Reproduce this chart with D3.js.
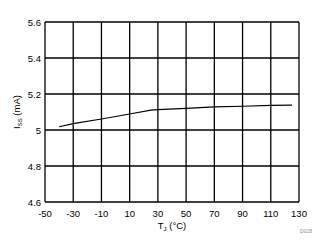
<!DOCTYPE html>
<meta charset="utf-8">
<style>
  body { margin: 0; background: #fff; }
  text { font-family: "Liberation Sans", Arial, sans-serif; fill: #000; }
</style>
<script src="https://d3js.org/d3.v7.min.js"></script>
<body>
<script>
// values
var temps = [-40, -30, -10, 10, 25, 30, 50, 70, 90, 110, 125];
var iss   = [5.018, 5.035, 5.061, 5.089, 5.11, 5.113, 5.12, 5.128, 5.132, 5.137, 5.138];
var xTicks = [-50, -30, -10, 10, 30, 50, 70, 90, 110, 130];
var yTicks = [4.6, 4.8, 5, 5.2, 5.4, 5.6];

var width = 328, height = 252;
var plotL = 45, plotR = 299, plotT = 22, plotB = 202;

var svg = d3.select("body").append("svg")
    .attr("width", width)
    .attr("height", height);

var x = d3.scaleLinear().domain([-50, 130]).range([plotL, plotR]);
var y = d3.scaleLinear().domain([4.6, 5.6]).range([plotB, plotT]);

// grid
svg.append("g").selectAll("line").data(xTicks).enter().append("line")
    .attr("x1", d => x(d)).attr("x2", d => x(d))
    .attr("y1", plotT).attr("y2", plotB)
    .attr("stroke", "#000").attr("stroke-width", 1.3);
svg.append("g").selectAll("line").data(yTicks).enter().append("line")
    .attr("y1", d => y(d)).attr("y2", d => y(d))
    .attr("x1", plotL).attr("x2", plotR)
    .attr("stroke", "#000").attr("stroke-width", 1.3);

// tick labels
svg.append("g").selectAll("text").data(xTicks).enter().append("text")
    .attr("x", d => x(d)).attr("y", plotB + 15)
    .attr("text-anchor", "middle").style("font-size", "9.5px")
    .text(d => d);
svg.append("g").selectAll("text").data(yTicks).enter().append("text")
    .attr("x", plotL - 4).attr("y", d => y(d) + 3.5)
    .attr("text-anchor", "end").style("font-size", "9.5px")
    .text(d => d);

// data line
var line = d3.line().x((d, i) => x(temps[i])).y(d => y(d));
svg.append("path").datum(iss)
    .attr("d", line)
    .attr("fill", "none").attr("stroke", "#000").attr("stroke-width", 1.2);

// axis titles
var xt = svg.append("text").attr("x", 172).attr("y", 229)
    .attr("text-anchor", "middle").style("font-size", "9.5px");
xt.append("tspan").text("T");
xt.append("tspan").attr("dy", 2).style("font-size", "6px").text("J");
xt.append("tspan").attr("dy", -2).text(" (°C)");

var yt = svg.append("text")
    .attr("transform", "translate(20," + (y(5.1)) + ") rotate(-90)")
    .attr("text-anchor", "middle").style("font-size", "9.5px");
yt.append("tspan").text("I");
yt.append("tspan").attr("dy", 2).style("font-size", "6px").text("SS");
yt.append("tspan").attr("dy", -2).text(" (mA)");

svg.append("text").attr("x", 312).attr("y", 233)
    .attr("text-anchor", "end").style("font-size", "5px").style("fill", "#888")
    .text("D018");
</script>
</body>
